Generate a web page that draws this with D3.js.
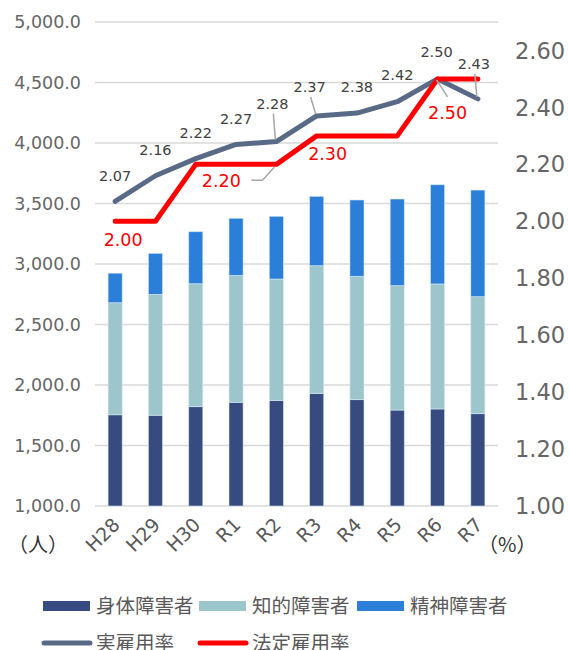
<!DOCTYPE html>
<html>
<head>
<meta charset="utf-8">
<script src="https://cdn.jsdelivr.net/npm/d3@7"></script>
<style>
  body { margin: 0; background: #fff; }
  svg text { font-family: "DejaVu Sans", "Noto Sans CJK JP", sans-serif; }
  svg text.jp { font-family: "Noto Sans CJK JP", sans-serif; }
</style>
</head>
<body>
<div id="chart"></div>
<script>
// years and series
var years = ["H28", "H29", "H30", "R1", "R2", "R3", "R4", "R5", "R6", "R7"];
var physical = [1754, 1750, 1821, 1857, 1873, 1931, 1879, 1793, 1802, 1763];
var intellectual = [926, 999, 1016, 1049, 1003, 1055, 1019, 1028, 1033, 967];
var mental = [244, 339, 430, 472, 518, 573, 631, 716, 820, 881];
var actualRate = [2.07, 2.16, 2.22, 2.27, 2.28, 2.37, 2.38, 2.42, 2.50, 2.43];
var legalRate = [2.00, 2.00, 2.20, 2.20, 2.20, 2.30, 2.30, 2.30, 2.50, 2.50];
var leftTicks = [1000, 1500, 2000, 2500, 3000, 3500, 4000, 4500, 5000];
var rightTicks = [1.0, 1.2, 1.4, 1.6, 1.8, 2.0, 2.2, 2.4, 2.6];
var seriesNames = ["身体障害者", "知的障害者", "精神障害者"];
var lineNames = ["実雇用率", "法定雇用率"];

var width = 569, height = 650;
var plotL = 95, plotR = 498, plotT = 22, plotB = 506;
var barColors = ["#374b80", "#9dc6cc", "#2b7fd8"];
var actColor = "#596a86", legColor = "#ff0000";

var svg = d3.select("#chart").append("svg")
    .attr("width", width)
    .attr("height", height);

var x = d3.scaleBand().domain(years).range([plotL, plotR])
    .paddingInner(0.65).paddingOuter(0.325);
var y = d3.scaleLinear().domain([1000, 5000]).range([plotB, plotT]);
var y2 = d3.scaleLinear().domain([1.0, 2.7]).range([plotB, plotT]);

// gridlines
svg.append("g").selectAll("line").data(leftTicks).enter().append("line")
    .attr("x1", plotL).attr("x2", plotR)
    .attr("y1", function(d){ return y(d); }).attr("y2", function(d){ return y(d); })
    .attr("stroke", "#d9d9d9").attr("stroke-width", 1.5);

// left axis labels
svg.append("g").selectAll("text").data(leftTicks).enter().append("text")
    .attr("x", 81).attr("y", function(d){ return y(d); })
    .attr("dy", "0.36em")
    .attr("text-anchor", "end")
    .attr("fill", "#666").attr("font-size", 17.5)
    .text(function(d){ return d3.format(",.1f")(d); });

// right axis labels
svg.append("g").selectAll("text").data(rightTicks).enter().append("text")
    .attr("x", 515).attr("y", function(d){ return y2(d); })
    .attr("dy", "0.36em")
    .attr("fill", "#666").attr("font-size", 22.5)
    .text(function(d){ return d3.format(".2f")(d); });

// stacked bars
var rows = years.map(function(yr, i){
  return {year: yr, physical: physical[i], intellectual: intellectual[i], mental: mental[i]};
});
var stack = d3.stack().keys(["physical", "intellectual", "mental"]);
var layers = stack(rows);

svg.append("g").selectAll("g").data(layers).enter().append("g")
    .attr("fill", function(d, i){ return barColors[i]; })
  .selectAll("rect").data(function(d){ return d; }).enter().append("rect")
    .attr("x", function(d){ return x(d.data.year); })
    .attr("width", x.bandwidth())
    .attr("y", function(d){ return y(d[1]); })
    .attr("height", function(d){
      var lo = Math.max(d[0], 1000);
      return y(lo) - y(d[1]);
    })
    .attr("stroke", "rgba(220,235,245,0.7)").attr("stroke-width", 0.8);

// lines
var cx = function(i){ return x(years[i]) + x.bandwidth() / 2; };
var line = d3.line()
    .x(function(d, i){ return cx(i); })
    .y(function(d){ return y2(d); });

svg.append("path").datum(actualRate)
    .attr("d", line).attr("fill", "none")
    .attr("stroke", actColor).attr("stroke-width", 5)
    .attr("stroke-linecap", "round").attr("stroke-linejoin", "round");

svg.append("path").datum(legalRate)
    .attr("d", line).attr("fill", "none")
    .attr("stroke", legColor).attr("stroke-width", 5)
    .attr("stroke-linecap", "round").attr("stroke-linejoin", "round");

// label offsets (dx, dy from point) and leaders
var actOffsets = [[0,-26],[0,-26],[0,-26],[0,-26],[-4,-38],[-7,-29],[0,-26],[0,-27],[-1,-27],[-4,-35]];
var actLeader = [false, false, false, false, true, true, false, false, false, true];

var leader = svg.append("g").attr("stroke", "#a6a6a6").attr("stroke-width", 1.5).attr("fill", "none");

actualRate.forEach(function(v, i){
  var px = cx(i), py = y2(v);
  var o = actOffsets[i];
  if (actLeader[i]) {
    leader.append("line")
      .attr("x1", px + o[0] + 1).attr("y1", py + o[1] + 10)
      .attr("x2", px - 1).attr("y2", py - 2);
  }
  svg.append("text")
    .attr("x", px + o[0]).attr("y", py + o[1])
    .attr("dy", "0.36em").attr("text-anchor", "middle")
    .attr("fill", "#404040").attr("font-size", 14.5)
    .text(d3.format(".2f")(v));
});

// legal rate labels only at shown points
var legLabelIdx = [0, 4, 5, 8];
var legOffsets = [[8, 18], [-55, 16], [11, 18], [10, 34]];

legLabelIdx.forEach(function(i, k){
  var px = cx(i), py = y2(legalRate[i]);
  var o = legOffsets[k];
  if (k === 1) {
    leader.append("polyline")
      .attr("points", [[px + o[0] + 30, py + o[1]], [px + o[0] + 41, py + o[1]], [px - 2, py + 3]].join(" "));
  }
  if (k === 3) {
    leader.append("line")
      .attr("x1", px - 1).attr("y1", py + 1)
      .attr("x2", px + o[0]).attr("y2", py + o[1] - 16);
  }
  svg.append("text")
    .attr("x", px + o[0]).attr("y", py + o[1])
    .attr("dy", "0.36em").attr("text-anchor", "middle")
    .attr("fill", legColor).attr("font-size", 17.5)
    .text(d3.format(".2f")(legalRate[i]));
});

// x labels
svg.append("g").selectAll("text").data(years).enter().append("text")
    .attr("transform", function(d){
      return "translate(" + (x(d) + x.bandwidth() / 2 + 1) + "," + 521 + ") rotate(-45)";
    })
    .attr("text-anchor", "end").attr("dy", "0.36em")
    .attr("fill", "#595959").attr("font-size", 19)
    .text(function(d){ return d; });

// unit labels
svg.append("text").attr("class", "jp").attr("x", 8).attr("y", 545).attr("dy", "0.35em")
    .attr("fill", "#333").attr("font-size", 20).text("（人）");
svg.append("text").attr("class", "jp").attr("x", 478).attr("y", 545).attr("dy", "0.35em")
    .attr("fill", "#333").attr("font-size", 20).text("（%）");

// legend
var legendItems = [
  {name: seriesNames[0], color: barColors[0], type: "bar", x: 43, y: 606},
  {name: seriesNames[1], color: barColors[1], type: "bar", x: 199, y: 606},
  {name: seriesNames[2], color: barColors[2], type: "bar", x: 357, y: 606},
  {name: lineNames[0], color: actColor, type: "line", x: 43, y: 643},
  {name: lineNames[1], color: legColor, type: "line", x: 199, y: 643}
];
var lg = svg.append("g").selectAll("g").data(legendItems).enter().append("g")
    .attr("transform", function(d){ return "translate(" + d.x + "," + d.y + ")"; });
lg.filter(function(d){ return d.type === "bar"; }).append("rect")
    .attr("x", 0).attr("y", -5).attr("width", 47).attr("height", 10)
    .attr("fill", function(d){ return d.color; });
lg.filter(function(d){ return d.type === "line"; }).append("line")
    .attr("x1", 1).attr("x2", 47).attr("y1", 0).attr("y2", 0)
    .attr("stroke", function(d){ return d.color; }).attr("stroke-width", 5)
    .attr("stroke-linecap", "round");
lg.append("text").attr("class", "jp")
    .attr("x", 53).attr("dy", "0.35em")
    .attr("fill", "#595959").attr("font-size", 19.5)
    .text(function(d){ return d.name; });
</script>
</body>
</html>
